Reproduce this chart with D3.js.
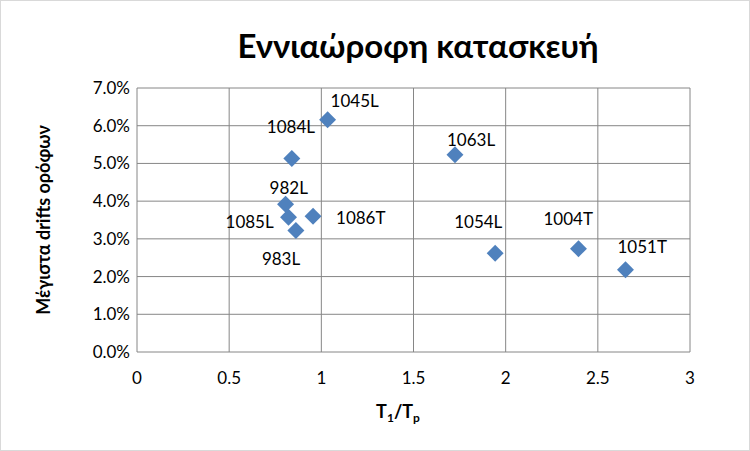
<!DOCTYPE html>
<html><head><meta charset="utf-8">
<script src="https://cdn.jsdelivr.net/npm/d3@7"></script>
<style>body{margin:0;background:#fff}text{font-family:Lato,"Noto Sans",sans-serif}</style>
</head><body>
<svg id="c" width="750" height="451"></svg>
<script>
var labels = ["1045L","1084L","1063L","982L","1085L","1086T","983L","1054L","1004T","1051T"];
var ratio  = [1.034, 0.84, 1.725, 0.806, 0.822, 0.955, 0.862, 1.943, 2.395, 2.65];
var drift  = [0.0616, 0.0513, 0.0523, 0.0392, 0.0357, 0.036, 0.0322, 0.0262, 0.0274, 0.0218];
var xTicks = [0, 0.5, 1, 1.5, 2, 2.5, 3];
var yTicks = [0, 0.01, 0.02, 0.03, 0.04, 0.05, 0.06, 0.07];
// label placement relative to the point (start x, centre y), px
var labelOff = [[3,-19],[-25,-31],[-8,-15],[-16,-16],[-63,5],[23,2],[-34,29],[-41,-31],[-35,-30],[-8,-23]];

var svg = d3.select("#c");
svg.append("rect").attr("x",0.5).attr("y",0.5).attr("width",749).attr("height",450)
  .attr("fill","#fff").attr("stroke","#d9d9d9");

var m = {left:137, right:690, top:88, bottom:352};
var x = d3.scaleLinear().domain([0,3]).range([m.left,m.right]);
var y = d3.scaleLinear().domain([0,0.07]).range([m.bottom,m.top]);

svg.append("g").selectAll("line").data(xTicks).enter().append("line")
  .attr("x1",x).attr("x2",x).attr("y1",m.top).attr("y2",m.bottom)
  .attr("stroke","#868686").attr("stroke-width",1);
svg.append("g").selectAll("line").data(yTicks).enter().append("line")
  .attr("y1",y).attr("y2",y).attr("x1",m.left).attr("x2",m.right)
  .attr("stroke","#868686").attr("stroke-width",1);

svg.append("g").selectAll("text").data(xTicks).enter().append("text")
  .attr("x",x).attr("y",m.bottom+32).attr("text-anchor","middle")
  .attr("font-size",17).text(function(d){return d;});
svg.append("g").selectAll("text").data(yTicks).enter().append("text")
  .attr("x",m.left-7).attr("y",function(d){return y(d)+6;}).attr("text-anchor","end")
  .attr("font-size",17).text(function(d){return (d*100).toFixed(1)+"%";});

var pts = svg.append("g").selectAll("g").data(labels).enter().append("g")
  .attr("transform",function(d,i){return "translate("+x(ratio[i])+","+y(drift[i])+")";});
pts.append("rect").attr("x",-6).attr("y",-6).attr("width",12).attr("height",12)
  .attr("transform","rotate(45)").attr("fill","#4f81bd");
pts.append("text").attr("x",function(d,i){return labelOff[i][0];})
  .attr("y",function(d,i){return labelOff[i][1];}).attr("dy","0.35em")
  .attr("font-size",17).text(function(d){return d;});

svg.append("text").attr("x",418).attr("y",58).attr("text-anchor","middle")
  .attr("font-size",33).attr("font-weight","bold").text("Εννιαώροφη κατασκευή");

svg.append("text").attr("transform","translate(50,220) rotate(-90)")
  .attr("text-anchor","middle").attr("font-size",18).attr("font-weight","bold")
  .text("Μέγιστα drifts ορόφων");

var xl = svg.append("text").attr("x",398).attr("y",418).attr("text-anchor","middle")
  .attr("font-size",18).attr("font-weight","bold");
xl.append("tspan").text("T");
xl.append("tspan").attr("font-size",12).attr("dy",4).text("1");
xl.append("tspan").attr("dy",-4).text("/T");
xl.append("tspan").attr("font-size",12).attr("dy",4).text("p");
</script>
</body></html>
